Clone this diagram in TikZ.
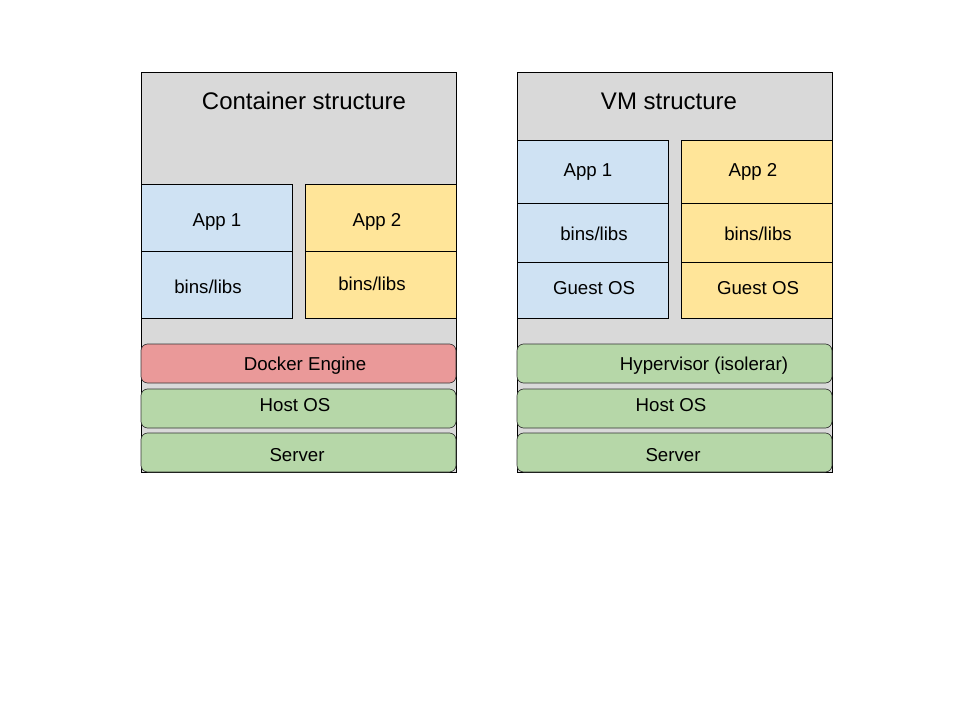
\documentclass[tikz,border=0pt]{standalone}
\usepackage{fontspec}
\setmainfont{Liberation Sans}
\usepackage{tikz}

\definecolor{frame}{HTML}{D9D9D9}
\definecolor{appone}{HTML}{CFE2F3}
\definecolor{apptwo}{HTML}{FFE599}
\definecolor{engine}{HTML}{EA9999}
\definecolor{hostlayer}{HTML}{B6D7A8}

\tikzset{
  panel/.style={draw=black, fill=frame, line width=0.6pt},
  box/.style={draw=black, line width=0.6pt},
  layer/.style={draw=black!80, line width=0.5pt, rounded corners=5pt},
  title/.style={font=\fontsize{18}{22}\selectfont},
  label/.style={font=\fontsize{14}{17}\selectfont}
}

\begin{document}
\begin{tikzpicture}[x=0.75pt, y=-0.75pt]
    \useasboundingbox (0,0) rectangle (960,720);

    \draw[panel] (141,72) rectangle (456,472);
    \node[title] (ctitle) at (304,101) {Container structure};

    \draw[box, fill=appone] (141,184) rectangle (292,318);
    \draw[box] (141,251) -- (292,251);
    \node[label] (capp1) at (217,222) {App 1};
    \node[label] (clibs1) at (208,287) {bins/libs};

    \draw[box, fill=apptwo] (305,184) rectangle (456,318);
    \draw[box] (305,251) -- (456,251);
    \node[label] (capp2) at (377,222) {App 2};
    \node[label] (clibs2) at (372,284) {bins/libs};

    \filldraw[layer, fill=engine] (141,344) rectangle (456,383);
    \node[label] (cengine) at (305,366) {Docker Engine};
    \filldraw[layer, fill=hostlayer] (141,389) rectangle (456,428);
    \node[label] (chost) at (295,405) {Host OS};
    \filldraw[layer, fill=hostlayer] (141,433) rectangle (456,472);
    \node[label] (cserver) at (297,455) {Server};

    \draw[panel] (517,72) rectangle (832,472);
    \node[title] (vtitle) at (669,101) {VM structure};

    \draw[box, fill=appone] (517,140) rectangle (668,318);
    \draw[box] (517,203) -- (668,203);
    \draw[box] (517,262) -- (668,262);
    \node[label] (vapp1) at (588,172) {App 1};
    \node[label] (vlibs1) at (594,234) {bins/libs};
    \node[label] (vguest1) at (594,288) {Guest OS};

    \draw[box, fill=apptwo] (681,140) rectangle (832,318);
    \draw[box] (681,203) -- (832,203);
    \draw[box] (681,262) -- (832,262);
    \node[label] (vapp2) at (753,172) {App 2};
    \node[label] (vlibs2) at (758,234) {bins/libs};
    \node[label] (vguest2) at (758,288) {Guest OS};

    \filldraw[layer, fill=hostlayer] (517,344) rectangle (832,383);
    \node[label] (vhyper) at (704,366) {Hypervisor (isolerar)};
    \filldraw[layer, fill=hostlayer] (517,389) rectangle (832,428);
    \node[label] (vhost) at (671,405) {Host OS};
    \filldraw[layer, fill=hostlayer] (517,433) rectangle (832,472);
    \node[label] (vserver) at (673,455) {Server};
\end{tikzpicture}
\end{document}
